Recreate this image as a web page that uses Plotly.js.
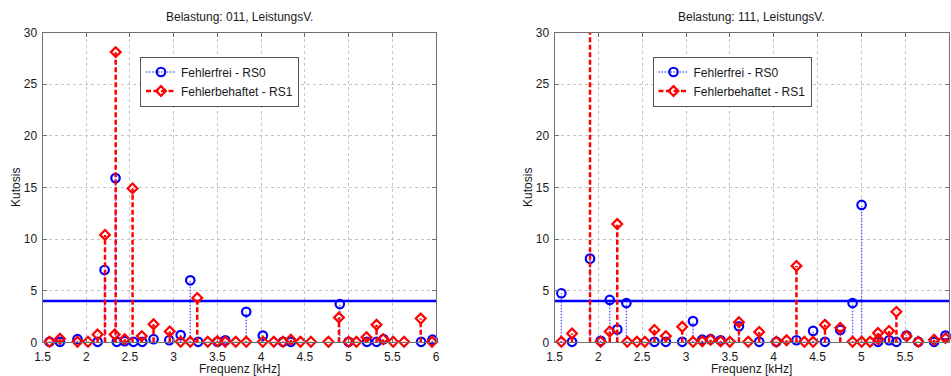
<!DOCTYPE html>
<html>
<head>
<meta charset="utf-8">
<script src="https://cdn.plot.ly/plotly-3.0.1.min.js"></script>
<style>html,body{margin:0;padding:0;background:#fff;}#chart{width:951px;height:376px;}</style>
</head>
<body>
<div id="chart"></div>
<script>
// ---------- data ----------
const titleLeft = "Belastung: 011, LeistungsV.";
const titleRight = "Belastung: 111, LeistungsV.";
const seriesNames = ["Fehlerfrei - RS0", "Fehlerbehaftet - RS1"];
const xLabel = "Frequenz [kHz]";
const yLabel = "Kutosis";
const threshold = 4;
const xTicks = [1.5, 2, 2.5, 3, 3.5, 4, 4.5, 5, 5.5, 6];
const yTicks = [0, 5, 10, 15, 20, 25, 30];

// left panel (011) - RS0
const freqL0 = [1.58, 1.70, 1.90, 2.13, 2.21, 2.335, 2.35, 2.44, 2.54, 2.64, 2.77, 2.95, 3.08, 3.19, 3.28, 3.50, 3.59, 3.83, 4.02, 4.25, 4.34, 4.90, 5.00, 5.21, 5.32, 5.40, 5.83, 5.96];
const valL0  = [0.05, 0.05, 0.30, 0.05, 7.0, 15.9, 0.05, 0.10, 0.05, 0.05, 0.30, 0.20, 0.70, 6.0, 0.05, 0.05, 0.20, 2.95, 0.65, 0.05, 0.05, 3.7, 0.05, 0.05, 0.05, 0.30, 0.05, 0.25];
// left panel (011) - RS1
const freqL1 = [1.58, 1.70, 1.90, 2.02, 2.13, 2.215, 2.325, 2.337, 2.44, 2.53, 2.635, 2.77, 2.955, 3.08, 3.19, 3.27, 3.39, 3.50, 3.59, 3.71, 3.83, 4.02, 4.145, 4.25, 4.34, 4.45, 4.57, 4.77, 4.89, 5.00, 5.09, 5.205, 5.32, 5.395, 5.51, 5.635, 5.825, 5.955];
const valL1  = [0.05, 0.35, 0.05, 0.05, 0.75, 10.4, 0.75, 28.1, 0.30, 14.9, 0.60, 1.75, 1.05, 0.05, 0.05, 4.3, 0.05, 0.10, 0.05, 0.05, 0.05, 0.05, 0.05, 0.05, 0.25, 0.05, 0.05, 0.05, 2.4, 0.05, 0.05, 0.50, 1.70, 0.30, 0.05, 0.05, 2.3, 0.05];

// right panel (111) - RS0
const freqR0 = [1.578, 1.70, 1.905, 2.027, 2.13, 2.216, 2.32, 2.64, 2.77, 2.957, 3.08, 3.185, 3.28, 3.395, 3.604, 3.835, 4.03, 4.26, 4.45, 4.585, 4.76, 4.90, 5.003, 5.19, 5.317, 5.40, 5.515, 5.65, 5.83, 5.96];
const valR0  = [4.75, 0.05, 8.1, 0.15, 4.1, 1.25, 3.8, 0.05, 0.05, 0.05, 2.05, 0.25, 0.30, 0.20, 1.55, 0.05, 0.05, 0.20, 1.10, 0.05, 1.20, 3.8, 13.3, 0.05, 0.20, 0.05, 0.65, 0.05, 0.05, 0.65];
// right panel (111) - RS1
const freqR1 = [1.578, 1.70, 1.905, 2.027, 2.13, 2.216, 2.33, 2.44, 2.53, 2.64, 2.77, 2.957, 3.08, 3.185, 3.28, 3.395, 3.50, 3.604, 3.71, 3.835, 4.03, 4.147, 4.26, 4.35, 4.45, 4.585, 4.76, 4.90, 5.003, 5.10, 5.19, 5.195, 5.317, 5.40, 5.515, 5.65, 5.83, 5.96];
const valR1  = [0.05, 0.85, 36, 0.05, 1.05, 11.45, 0.05, 0.05, 0.05, 1.20, 0.60, 1.50, 0.05, 0.10, 0.25, 0.10, 0.05, 1.95, 0.05, 1.0, 0.05, 0.20, 7.4, 0.05, 0.05, 1.70, 1.40, 0.05, 0.05, 0.05, 0.90, 0.30, 1.10, 2.95, 0.60, 0.05, 0.25, 0.40];

// ---------- styles ----------
const FONT = "Liberation Sans, Arial, Helvetica, sans-serif";
const TXT = "#1a1a1a";
const blueStem = {color: "rgb(100,100,255)", width: 1.5, dash: "1.5px,1.5px"};
const redStem = {color: "rgb(255,0,0)", width: 2.5, dash: "5px,2.5px"};
const blueMarker = {symbol: "circle-open", size: 8.5, color: "rgb(0,0,255)", line: {width: 2.2, color: "rgb(0,0,255)"}};
const redMarker = {symbol: "diamond-open", size: 7.5, color: "rgb(255,0,0)", line: {width: 2.2, color: "rgb(255,0,0)"}};

function stemXY(f, v) {
  const x = [], y = [];
  f.forEach((fi, i) => { x.push(fi, fi, null); y.push(0, v[i], null); });
  return {x, y};
}

function panel(f0, v0, f1, v1, xa, ya, lg) {
  const s0 = stemXY(f0, v0), s1 = stemXY(f1, v1);
  const xr = [xTicks[0], xTicks[xTicks.length - 1]];
  return [
    {type: "scatter", mode: "lines", x: s0.x, y: s0.y, xaxis: xa, yaxis: ya, line: blueStem, showlegend: false, hoverinfo: "skip"},
    {type: "scatter", mode: "markers", x: f0, y: v0, xaxis: xa, yaxis: ya, marker: blueMarker, showlegend: false, cliponaxis: false},
    {type: "scatter", mode: "lines", x: xr, y: [threshold, threshold], xaxis: xa, yaxis: ya, line: {color: "rgb(0,0,255)", width: 2.4}, showlegend: false, hoverinfo: "skip"},
    {type: "scatter", mode: "lines", x: s1.x, y: s1.y, xaxis: xa, yaxis: ya, line: redStem, showlegend: false, hoverinfo: "skip"},
    {type: "scatter", mode: "markers", x: f1, y: v1, xaxis: xa, yaxis: ya, marker: redMarker, showlegend: false, cliponaxis: false},
    {type: "scatter", mode: "lines+markers", x: [null], y: [null], xaxis: xa, yaxis: ya, name: seriesNames[0], line: blueStem, marker: blueMarker, legend: lg},
    {type: "scatter", mode: "lines+markers", x: [null], y: [null], xaxis: xa, yaxis: ya, name: seriesNames[1], line: redStem, marker: redMarker, legend: lg}
  ];
}

const data = [].concat(
  panel(freqL0, valL0, freqL1, valL1, "x", "y", "legend"),
  panel(freqR0, valR0, freqR1, valR1, "x2", "y2", "legend2")
);

const W = 951, H = 376;
const yDom = [1 - 342.3 / H, 1 - 32.5 / H];
const xDomL = [42.5 / W, 436 / W];
const xDomR = [554.5 / W, 949 / W];

function xAxis(dom, anchor) {
  return {
    domain: dom, anchor: anchor, range: [xTicks[0], xTicks[xTicks.length - 1]],
    tickmode: "array", tickvals: xTicks, ticktext: xTicks.map(String),
    ticks: "inside", ticklen: 4, tickcolor: "#707070", showline: true, linecolor: "#707070", linewidth: 1, mirror: "ticks",
    showgrid: true, gridcolor: "#c4c4c4", griddash: "dot", gridwidth: 1, zeroline: false,
    ticklabelstandoff: 3,
    tickfont: {family: FONT, size: 12, color: TXT}, fixedrange: true
  };
}
function yAxis(anchor) {
  return {
    domain: yDom, anchor: anchor, range: [yTicks[0], yTicks[yTicks.length - 1]],
    tickmode: "array", tickvals: yTicks, ticktext: yTicks.map(String),
    ticks: "inside", ticklen: 4, tickcolor: "#707070", showline: true, linecolor: "#707070", linewidth: 1, mirror: "ticks",
    showgrid: true, gridcolor: "#c4c4c4", griddash: "dot", gridwidth: 1, zeroline: false,
    ticklabelstandoff: 2,
    tickfont: {family: FONT, size: 12, color: TXT}, fixedrange: true
  };
}

const legendStyle = (xpx) => ({
  x: xpx / W, y: 1 - 56.5 / H, xanchor: "left", yanchor: "top",
  bgcolor: "#ffffff", bordercolor: "#555555", borderwidth: 1,
  font: {family: FONT, size: 12, color: TXT}, tracegroupgap: 0, itemwidth: 30
});

const ann = [];
[[xDomL, titleLeft], [xDomR, titleRight]].forEach(([d, t]) => {
  const cx = (d[0] + d[1]) / 2;
  ann.push({text: t, xref: "paper", yref: "paper", x: cx, y: 1 - 17 / H, xanchor: "center", yanchor: "middle", showarrow: false, font: {family: FONT, size: 12, color: TXT}});
  ann.push({text: xLabel, xref: "paper", yref: "paper", x: cx, y: 1 - 368.5 / H, xanchor: "center", yanchor: "middle", showarrow: false, font: {family: FONT, size: 12, color: TXT}});
  ann.push({text: yLabel, xref: "paper", yref: "paper", x: (d[0] * W - 26) / W, y: (yDom[0] + yDom[1]) / 2, xanchor: "center", yanchor: "middle", textangle: -90, showarrow: false, font: {family: FONT, size: 12, color: TXT}});
});

const layout = {
  width: W, height: H, margin: {l: 0, r: 0, t: 0, b: 0},
  paper_bgcolor: "#ffffff", plot_bgcolor: "#ffffff",
  showlegend: true,
  xaxis: xAxis(xDomL, "y"), yaxis: yAxis("x"),
  xaxis2: xAxis(xDomR, "y2"), yaxis2: yAxis("x2"),
  legend: legendStyle(140), legend2: legendStyle(652.5),
  annotations: ann
};

Plotly.newPlot("chart", data, layout, {displayModeBar: false, staticPlot: true});
</script>
</body>
</html>
